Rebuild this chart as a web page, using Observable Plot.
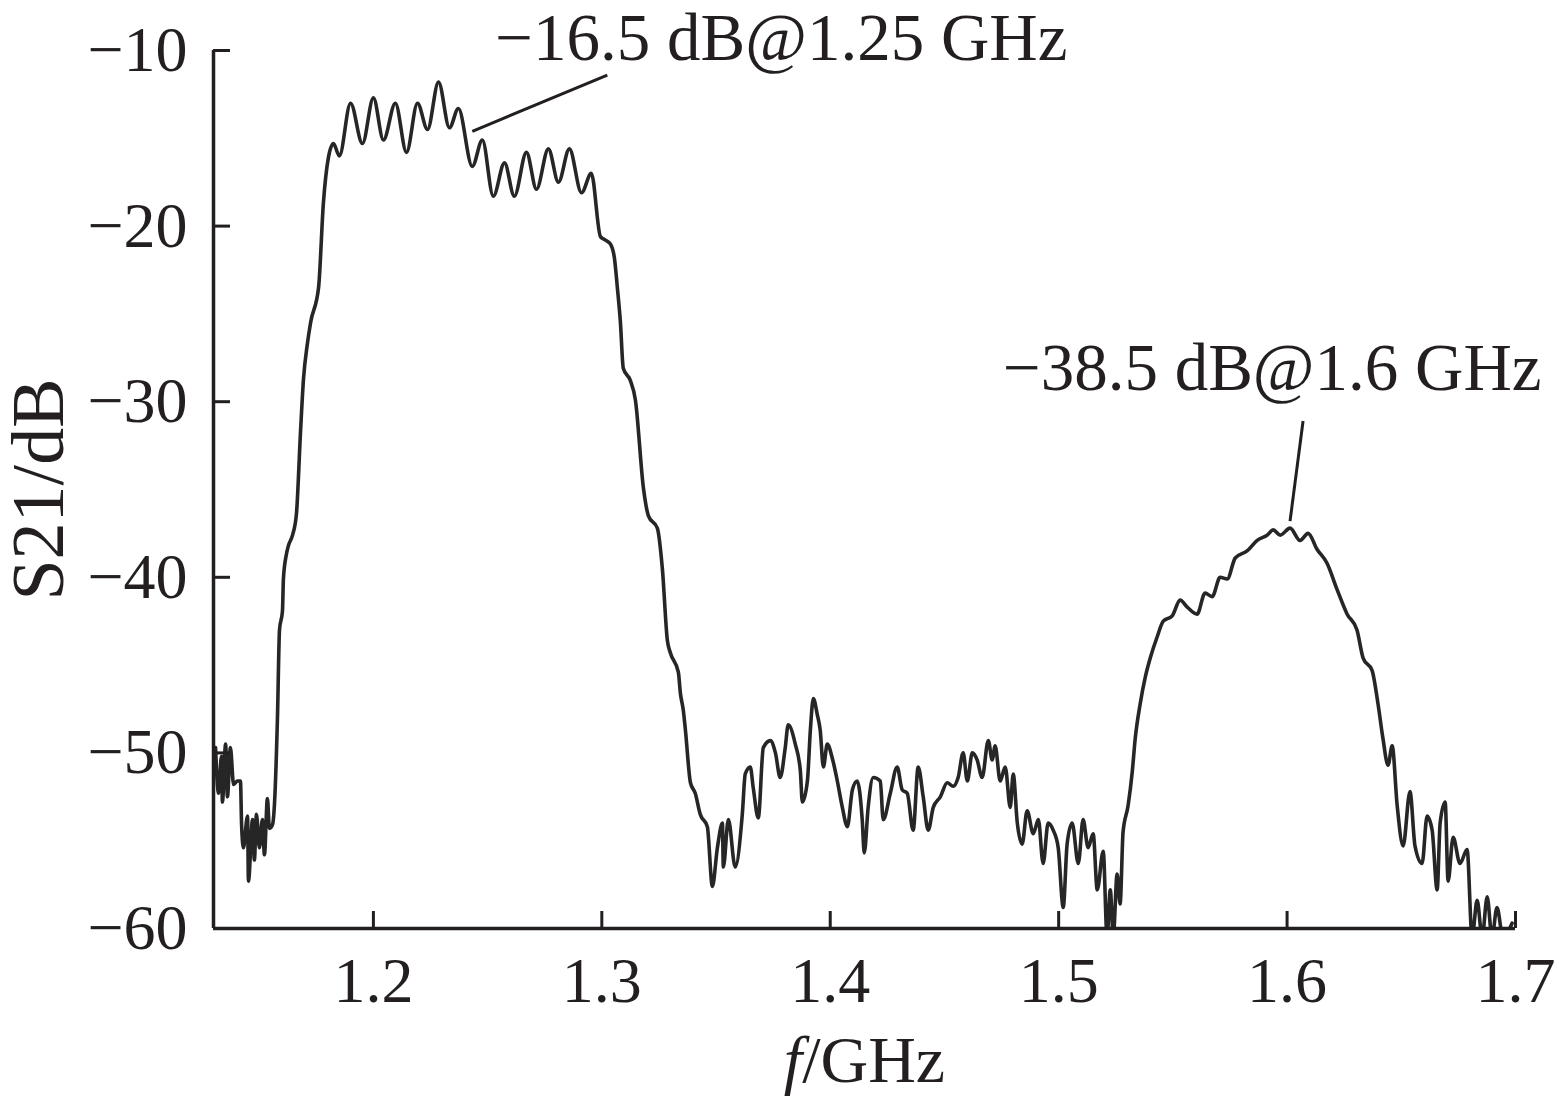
<!DOCTYPE html>
<html><head><meta charset="utf-8">
<script src="https://cdn.jsdelivr.net/npm/d3@7"></script>
<script src="https://cdn.jsdelivr.net/npm/@observablehq/plot@0.6"></script>
<style>
body{margin:0;background:#fff;}
#chart svg{font-family:"Liberation Serif","Times New Roman",serif;}
</style></head><body><div id="chart"></div>
<script>
// Measured S21 response (GHz, dB)
const freq = [
1.1309,1.1322,1.1335,1.1339,1.1353,1.1361,1.1374,1.1388,1.1405,1.1418,1.1423,1.1431,1.1449,1.1453,1.1471,1.1479,1.1488,1.1501,1.1514,1.1523,1.1536,1.1545,1.1558,1.1567,
1.1580,1.1589,1.1602,1.1606,1.1619,1.1628,1.1646,1.1663,1.1681,1.1694,1.1711,1.1725,1.1760,1.1781,1.1803,1.1825,1.1851,1.1900,1.1952,1.2000,1.2044,1.2096,1.2145,1.2193,1.2237,1.2285,1.2333,1.2372,
1.2433,1.2477,1.2525,1.2574,1.2617,1.2670,1.2714,1.2766,1.2810,1.2858,1.2911,1.2954,1.2994,1.3016,1.3037,1.3055,1.3068,1.3081,1.3094,1.3125,1.3147,1.3182,1.3204,1.3243,1.3265,1.3287,1.3300,1.3335,
1.3344,1.3357,1.3366,1.3388,1.3409,1.3431,1.3462,1.3484,1.3506,1.3528,1.3532,1.3554,1.3584,1.3615,1.3628,1.3650,1.3663,1.3685,1.3707,1.3738,1.3760,1.3781,1.3803,1.3816,1.3847,1.3869,1.3878,1.3900,
1.3913,1.3926,1.3943,1.3956,1.3970,1.3987,1.4009,1.4031,1.4053,1.4075,1.4097,1.4118,1.4140,1.4149,1.4166,1.4188,1.4219,1.4232,1.4263,1.4293,1.4315,1.4337,1.4363,1.4385,1.4407,1.4429,1.4451,1.4482,
1.4512,1.4538,1.4560,1.4582,1.4600,1.4622,1.4643,1.4665,1.4692,1.4709,1.4722,1.4744,1.4766,1.4788,1.4801,1.4819,1.4840,1.4862,1.4889,1.4911,1.4932,1.4954,1.4976,1.4998,1.5020,1.5037,1.5059,1.5086,
1.5107,1.5129,1.5151,1.5169,1.5195,1.5212,1.5226,1.5239,1.5256,1.5269,1.5282,1.5304,1.5322,1.5335,1.5357,1.5379,1.5401,1.5431,1.5458,1.5497,1.5532,1.5563,1.5606,1.5641,1.5672,1.5707,1.5738,1.5773,
1.5825,1.5869,1.5913,1.5939,1.5970,1.6013,1.6057,1.6092,1.6131,1.6175,1.6219,1.6263,1.6306,1.6333,1.6372,1.6398,1.6420,1.6442,1.6460,1.6482,1.6508,1.6538,1.6560,1.6591,1.6613,1.6635,1.6657,1.6670,
1.6692,1.6705,1.6727,1.6757,1.6788,1.6810,1.6832,1.6854,1.6876,1.6897,1.6919,1.6945,1.6985
];
const s21 = [
-49.7,-52.3,-50.2,-52.8,-49.5,-52.5,-49.7,-51.8,-51.6,-51.6,-54.1,-55.4,-53.6,-57.3,-53.8,-56.1,-53.5,-55.4,-53.8,-55.8,-52.6,-54.3,-54.1,-52.9,
-48.0,-43.0,-41.9,-40.1,-38.7,-38.2,-37.6,-36.4,-31.7,-28.7,-26.7,-25.5,-23.5,-18.7,-16.1,-15.3,-16.0,-13.0,-15.3,-12.7,-15.1,-13.0,-15.8,-13.0,-14.5,-11.8,-14.4,-13.3,
-16.6,-15.1,-18.3,-16.4,-18.3,-15.8,-17.9,-15.6,-17.5,-15.6,-18.1,-17.0,-20.6,-20.8,-21.0,-21.8,-23.5,-25.4,-28.1,-28.8,-29.9,-34.9,-36.5,-37.2,-39.5,-43.6,-44.3,-45.4,
-46.6,-47.6,-48.7,-51.7,-52.3,-53.5,-54.2,-57.6,-55.4,-54.0,-56.5,-53.8,-56.5,-53.5,-51.2,-50.8,-52.0,-53.7,-49.7,-49.3,-50.0,-51.4,-49.7,-48.4,-49.5,-51.0,-52.8,-51.6,
-48.7,-46.9,-47.8,-48.7,-50.8,-49.5,-50.3,-51.6,-53.1,-54.2,-52.1,-51.6,-53.8,-55.7,-53.1,-51.4,-51.6,-53.8,-52.3,-50.8,-52.1,-52.3,-54.4,-50.8,-52.5,-54.4,-53.1,-52.5,
-51.7,-51.9,-51.4,-50.0,-51.6,-50.0,-50.4,-51.4,-49.3,-50.4,-49.6,-51.6,-50.8,-53.1,-51.2,-54.0,-55.2,-53.3,-54.6,-53.8,-56.3,-54.0,-54.4,-55.4,-58.8,-55.2,-54.0,-56.3,
-53.8,-55.4,-54.6,-57.8,-55.6,-60.5,-57.8,-60.5,-56.9,-58.6,-54.5,-53.0,-51.1,-49.2,-47.2,-45.7,-44.6,-43.4,-42.5,-42.2,-41.3,-41.7,-42.1,-40.9,-41.1,-40.0,-40.1,-38.9,
-38.5,-37.9,-37.6,-37.3,-37.6,-37.2,-37.9,-37.5,-38.4,-39.2,-40.7,-42.1,-43.0,-44.6,-45.3,-47.2,-49.2,-50.7,-49.6,-53.0,-55.3,-52.2,-55.3,-56.3,-53.6,-54.4,-57.8,-54.0,
-52.8,-57.3,-54.8,-56.3,-55.5,-60.5,-58.4,-60.5,-58.2,-60.5,-58.8,-60.5,-59.7
];
const xTicks = [1.2, 1.3, 1.4, 1.5, 1.6, 1.7];
const yTicks = [-10, -20, -30, -40, -50, -60];
const xDomain = [1.13, 1.7];
const yDomain = [-60, -10];

// annotations (data units)
const noteText = ["\u221216.5 dB@1.25 GHz", "\u221238.5 dB@1.6 GHz"];
const noteF = [1.3786, 1.5935];
const noteDb = [-9.3, -28.1];
const leaderF1 = [1.2433, 1.6013];
const leaderDb1 = [-14.6, -36.8];
const leaderF2 = [1.3024, 1.6070];
const leaderDb2 = [-11.4, -31.1];

const data = freq.map((f, i) => ({f, s: s21[i]}));
const notes = noteText.map((t, i) => ({t, f: noteF[i], s: noteDb[i]}));
const leaders = leaderF1.map((f, i) => ({f1: f, s1: leaderDb1[i], f2: leaderF2[i], s2: leaderDb2[i]}));

const ink = "#231f20";
const chart = Plot.plot({
  width: 1559, height: 1099,
  marginLeft: 213, marginRight: 44, marginTop: 50, marginBottom: 171,
  style: {fontFamily: "'Liberation Serif','Times New Roman',serif", fontSize: "64px", color: ink, background: "#fff", overflow: "visible"},
  x: {domain: xDomain},
  y: {domain: yDomain},
  marks: [
    Plot.line(data, {x: "f", y: "s", stroke: "#262626", strokeWidth: 3.6, curve: "monotone-x", clip: true}),
    Plot.ruleX([xDomain[0]], {stroke: ink, strokeWidth: 3.5}),
    Plot.ruleY([yDomain[0]], {stroke: ink, strokeWidth: 3.5, x1: xDomain[0], x2: xDomain[1]}),
    Plot.axisY(yTicks, {tickSize: -17, tickPadding: 43, strokeWidth: 3, stroke: ink, fill: ink, fontSize: 64, label: null, tickFormat: d3.format("d")}),
    Plot.axisX(xTicks, {tickSize: -17, tickPadding: 45, strokeWidth: 3, stroke: ink, fill: ink, fontSize: 64, label: null, tickFormat: d3.format(".1f")}),
    Plot.text(["S21/dB"], {frameAnchor: "left", rotate: -90, dx: -174, fontSize: 74, fill: ink, textAnchor: "middle", lineAnchor: "middle"}),
    Plot.text(["f/GHz"], {frameAnchor: "bottom", dy: 132, fontSize: 66, fill: ink, textAnchor: "middle", lineAnchor: "middle"}),
    Plot.link(leaders, {x1: "f1", y1: "s1", x2: "f2", y2: "s2", stroke: ink, strokeWidth: 3}),
    Plot.text(notes, {x: "f", y: "s", text: "t", fontSize: 67, fill: ink, lineAnchor: "middle"})
  ]
});
document.getElementById("chart").appendChild(chart);
// italic f in the x-axis label
chart.querySelectorAll("text").forEach(t => {
  if (t.textContent === "f/GHz") {
    t.textContent = "";
    const ns = "http://www.w3.org/2000/svg";
    const a = document.createElementNS(ns, "tspan");
    a.setAttribute("font-style", "italic");
    a.textContent = "f";
    const b = document.createElementNS(ns, "tspan");
    b.textContent = "/GHz";
    t.appendChild(a); t.appendChild(b);
  }
});
</script></body></html>
